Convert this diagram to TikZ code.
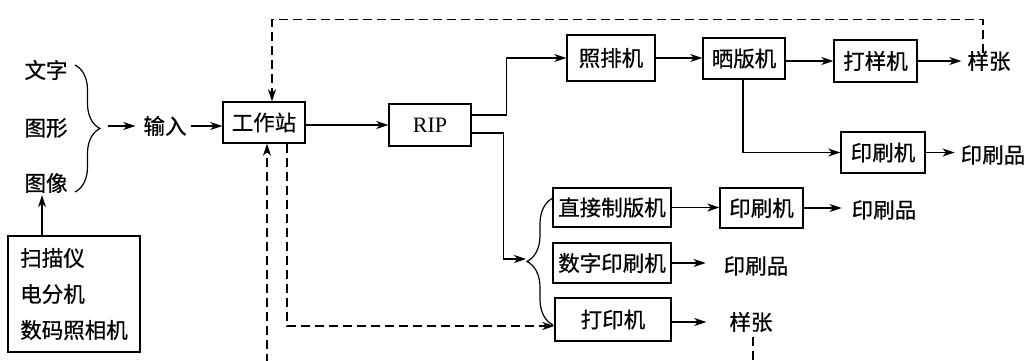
\documentclass[tikz,border=0pt]{standalone}
\usepackage{fontspec}
\newfontfamily\cjk[FakeBold=0.6]{Noto Sans CJK SC}
\newfontfamily\ripfont{Liberation Serif}
\usetikzlibrary{arrows.meta,decorations.pathreplacing}
\begin{document}
\begin{tikzpicture}[x=1pt,y=-1pt,
  cf/.style={font=\cjk\fontsize{21.5}{24}\selectfont},
  box/.style={draw,line width=1.4pt,inner sep=0pt,cf},
  lbl/.style={inner sep=0pt,cf},
  ln/.style={line width=1.2pt},
  arr/.style={ln,-{Stealth[length=12pt,width=8pt,inset=3.5pt]}},
  dsh/.style={arr,dash pattern=on 9pt off 5pt}]
\clip (0,0) rectangle (1026,361);
\fill[white] (0,0) rectangle (1026,361);
% left inputs
\node[lbl] (wz) at (46,70) {文字};
\node[lbl] (tx) at (46,128) {图形};
\node[lbl] (ty) at (46,183) {图像};
\node[box,minimum width=132pt,minimum height=116pt,align=left,
  font=\cjk\fontsize{21.5}{36}\selectfont] (scan) at (74,294) {扫描仪\\电分机\\数码照相机};
\draw[ln,decorate,decoration={brace,amplitude=25pt}] (75,65) -- (75,192);
\coordinate (bt1) at (100,126);
\node[lbl] (sr) at (165,126) {输入};
% main boxes
\node[box,minimum width=82pt,minimum height=41pt] (gzz) at (264,122.5) {工作站};
\node[box,minimum width=82pt,minimum height=42pt,font=\ripfont\fontsize{22}{24}\selectfont] (rip) at (430,125) {RIP};
\node[box,minimum width=88pt,minimum height=46pt] (zpj) at (611,58) {照排机};
\node[box,minimum width=82pt,minimum height=41pt] (sbj) at (744,58.5) {晒版机};
\node[box,minimum width=83pt,minimum height=42pt] (dyj) at (875.5,61) {打样机};
\node[box,minimum width=84pt,minimum height=41pt] (ysj1) at (883,152.5) {印刷机};
\node[box,minimum width=118pt,minimum height=39pt] (zjzb) at (612,207.5) {直接制版机};
\node[box,minimum width=118pt,minimum height=40pt] (szys) at (612,263) {数字印刷机};
\node[box,minimum width=116pt,minimum height=43pt] (dyj2) at (613,319.5) {打印机};
\node[box,minimum width=83pt,minimum height=40pt] (ysj2) at (761.5,208) {印刷机};
% outputs
\node[lbl] (yz1) at (989,61) {样张};
\node[lbl] (ysp1) at (993,155) {印刷品};
\node[lbl] (ysp2) at (884,210) {印刷品};
\node[lbl] (ysp3) at (756,266) {印刷品};
\node[lbl] (yz2) at (751,322) {样张};
\draw[ln,decorate,decoration={brace,amplitude=26pt}] (553,325) -- (553,198);
\coordinate (bt2) at (526,259);
% connectors
\draw[arr,shorten <=8pt,shorten >=8pt] (bt1) -- (sr.west);
\draw[arr,shorten <=4pt] (sr.east) -- (gzz.west |- sr.east);
\draw[arr,shorten >=2pt] ([xshift=-32pt]scan.north) -- ([xshift=-4pt]ty.south);
\draw[arr] (gzz.east |- rip.west) -- (rip.west);
\draw[arr] ([yshift=10pt]rip.east) -- ++(35,0) |- (zpj.west);
\draw[arr] ([yshift=-8pt]rip.east) -- ++(32,0) |- (bt2);
\draw[arr] (zpj.east) -- (sbj.west |- zpj.east);
\draw[arr] (sbj.east |- dyj.west) -- (dyj.west);
\draw[arr,shorten >=6pt] (dyj.east) -- (yz1.west |- dyj.east);
\draw[arr] ([xshift=-1pt]sbj.south) |- (ysj1.west);
\draw[arr,shorten >=6pt] (ysj1.east) -- (ysp1.west |- ysj1.east);
\draw[arr] (zjzb.east) -- (ysj2.west |- zjzb.east);
\draw[arr,shorten >=10pt] (ysj2.east) -- (ysp2.west |- ysj2.east);
\draw[arr,shorten >=18pt] (szys.east) -- (ysp3.west |- szys.east);
\draw[arr,shorten >=23pt] (dyj2.east |- yz2.west) -- (yz2.west);
% dashed feedback
\draw[dsh] ([xshift=-6pt,yshift=-2pt]yz1.north) -- ++(0,-33) -| ([xshift=8pt]gzz.north);
\draw[dsh] ([xshift=23pt]gzz.south) |- ([yshift=-6.5pt]dyj2.west);
\draw[dsh] ([xshift=2pt,yshift=-5pt]yz2.south) -- (753,380) -| ([xshift=3pt]gzz.south);
\end{tikzpicture}
\end{document}
